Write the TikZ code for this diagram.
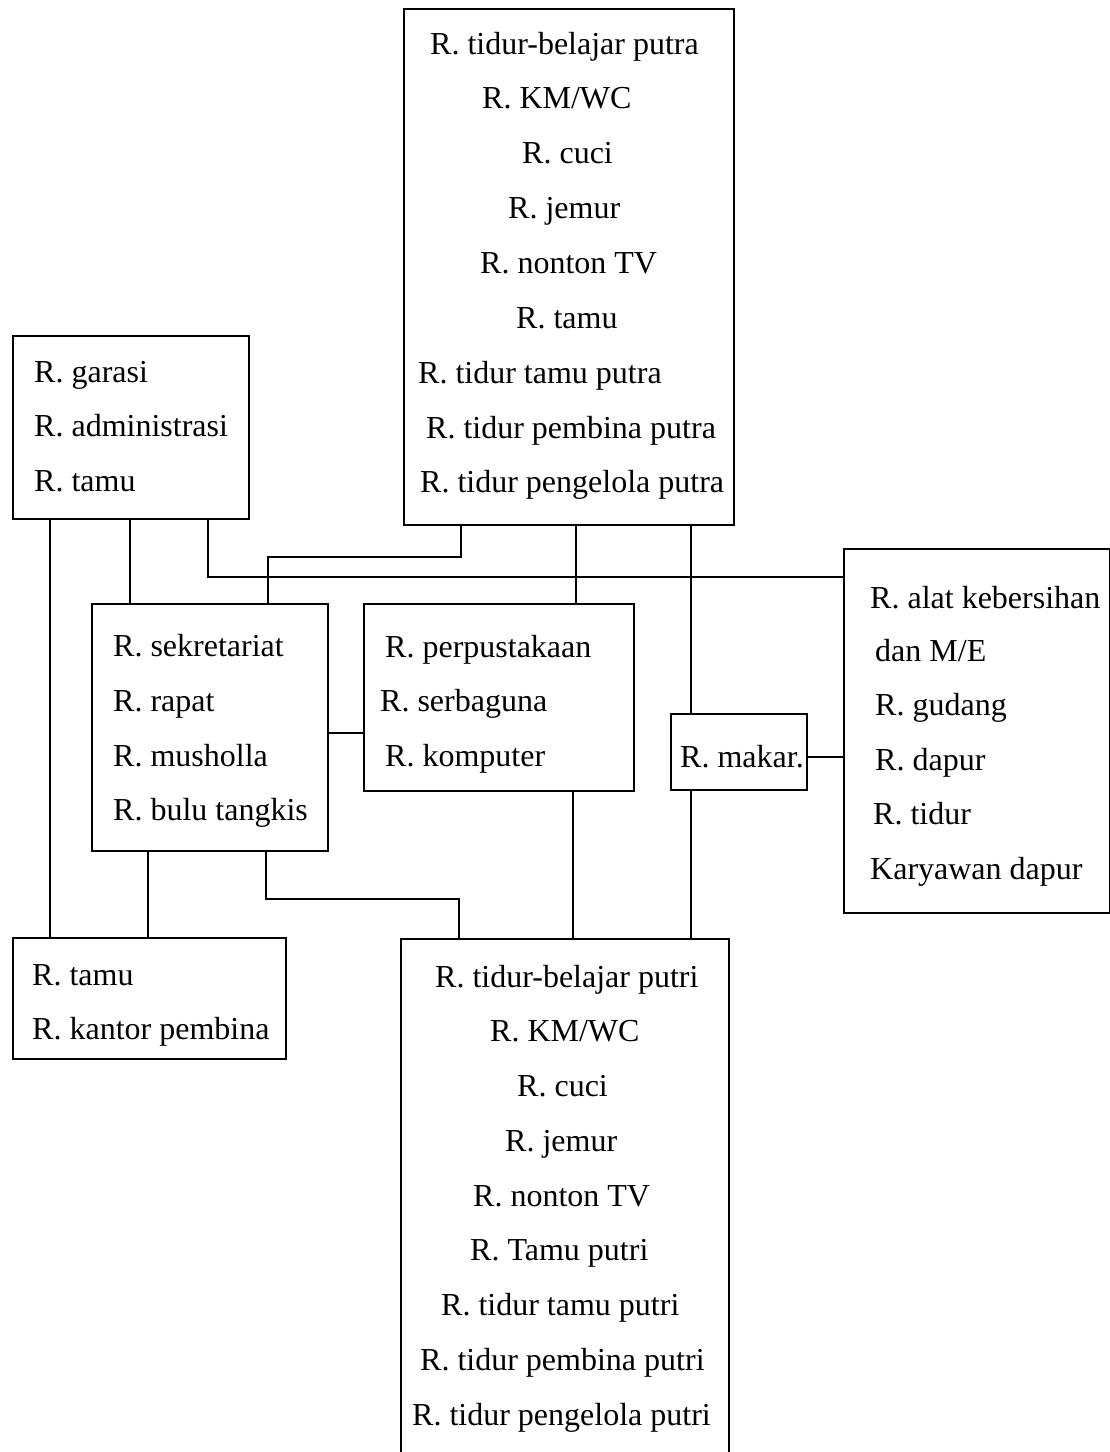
\documentclass[tikz,border=0pt]{standalone}
\usepackage{fontspec}
\setmainfont{Liberation Serif}
\begin{document}
\begin{tikzpicture}[x=1pt,y=-1pt,
  room/.style={draw, line width=1.8pt, rectangle, anchor=north west, inner sep=0pt},
  lbl/.style={anchor=base west, inner sep=0pt, font=\fontsize{32}{36}\selectfont},
  link/.style={line width=1.8pt}]
\useasboundingbox (0,0) rectangle (1110,1452);

% room groups
\node[room, minimum width=330pt, minimum height=516pt] (putra) at (403,8) {};
\node[room, minimum width=236pt, minimum height=183pt] (admin) at (12,335) {};
\node[room, minimum width=266pt, minimum height=364pt] (alat) at (843,548) {};
\node[room, minimum width=236pt, minimum height=247pt] (sek) at (91,603) {};
\node[room, minimum width=270pt, minimum height=187pt] (perp) at (363,603) {};
\node[room, minimum width=136pt, minimum height=76pt] (makar) at (670,713) {};
\node[room, minimum width=273pt, minimum height=121pt] (tk) at (12,937) {};
\node[room, minimum width=328pt, minimum height=514pt] (putri) at (400,938) {};

% labels, upper dormitory
\node[lbl] (p1) at (430,54) {R. tidur-belajar putra};
\node[lbl] (p2) at (482,108) {R. KM/WC};
\node[lbl] (p3) at (522,163) {R. cuci};
\node[lbl] (p4) at (508,218) {R. jemur};
\node[lbl] (p5) at (480,273) {R. nonton TV};
\node[lbl] (p6) at (516,328) {R. tamu};
\node[lbl] (p7) at (418,383) {R. tidur tamu putra};
\node[lbl] (p8) at (426,438) {R. tidur pembina putra};
\node[lbl] (p9) at (420,492) {R. tidur pengelola putra};

% labels, administration
\node[lbl] (a1) at (34,382) {R. garasi};
\node[lbl] (a2) at (34,436) {R. administrasi};
\node[lbl] (a3) at (34,491) {R. tamu};

% labels, secretariat
\node[lbl] (s1) at (113,656) {R. sekretariat};
\node[lbl] (s2) at (113,711) {R. rapat};
\node[lbl] (s3) at (113,766) {R. musholla};
\node[lbl] (s4) at (113,820) {R. bulu tangkis};

% labels, library
\node[lbl] (l1) at (385,657) {R. perpustakaan};
\node[lbl] (l2) at (380,711) {R. serbaguna};
\node[lbl] (l3) at (385,766) {R. komputer};

% labels, dining
\node[lbl] (m1) at (680,767) {R. makar.};

% labels, service
\node[lbl] (k1) at (870,608) {R. alat kebersihan};
\node[lbl] (k2) at (875,661) {dan M/E};
\node[lbl] (k3) at (875,715) {R. gudang};
\node[lbl] (k4) at (875,770) {R. dapur};
\node[lbl] (k5) at (873,824) {R. tidur};
\node[lbl] (k6) at (870,879) {Karyawan dapur};

% labels, guest and office
\node[lbl] (g1) at (32,985) {R. tamu};
\node[lbl] (g2) at (32,1039) {R. kantor pembina};

% labels, lower dormitory
\node[lbl] (q1) at (435,987) {R. tidur-belajar putri};
\node[lbl] (q2) at (490,1041) {R. KM/WC};
\node[lbl] (q3) at (517,1096) {R. cuci};
\node[lbl] (q4) at (505,1151) {R. jemur};
\node[lbl] (q5) at (473,1206) {R. nonton TV};
\node[lbl] (q6) at (470,1260) {R. Tamu putri};
\node[lbl] (q7) at (441,1315) {R. tidur tamu putri};
\node[lbl] (q8) at (420,1370) {R. tidur pembina putri};
\node[lbl] (q9) at (412,1425) {R. tidur pengelola putri};

% helper coordinates for connector columns and rows
\coordinate (c50) at (50,0);
\coordinate (c130) at (130,0);
\coordinate (c208) at (208,0);
\coordinate (c461) at (461,0);
\coordinate (c576) at (576,0);
\coordinate (c691) at (691,0);
\coordinate (c148) at (148,0);
\coordinate (c266) at (266,0);
\coordinate (c573) at (573,0);
\coordinate (r577) at (0,577);
\coordinate (r733) at (0,733);
\coordinate (r757) at (0,757);
\coordinate (bend1) at (268,557);
\coordinate (bend2) at (459,899);

% connectors
\draw[link] (admin.south -| c50) -- (tk.north -| c50);
\draw[link] (admin.south -| c130) -- (sek.north -| c130);
\draw[link] (admin.south -| c208) |- (alat.west |- r577);
\draw[link] (putra.south -| c461) |- (bend1) -- (sek.north -| bend1);
\draw[link] (putra.south -| c576) -- (perp.north -| c576);
\draw[link] (putra.south -| c691) -- (makar.north -| c691);
\draw[link] (makar.south -| c691) -- (putri.north -| c691);
\draw[link] (makar.east |- r757) -- (alat.west |- r757);
\draw[link] (sek.east |- r733) -- (perp.west |- r733);
\draw[link] (sek.south -| c148) -- (tk.north -| c148);
\draw[link] (sek.south -| c266) |- (bend2) -- (putri.north -| bend2);
\draw[link] (perp.south -| c573) -- (putri.north -| c573);
\end{tikzpicture}
\end{document}
